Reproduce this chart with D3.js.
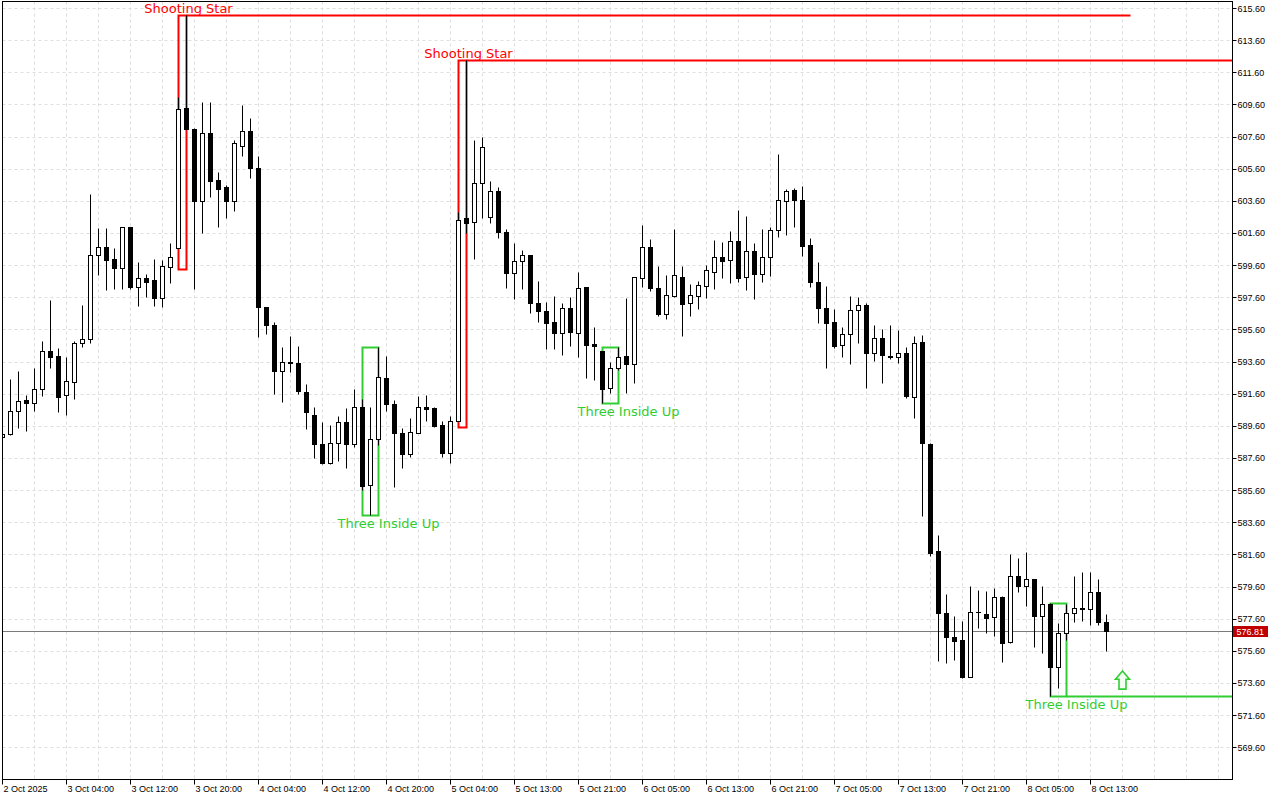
<!DOCTYPE html>
<html><head><meta charset="utf-8">
<script src="https://cdn.jsdelivr.net/npm/d3@7"></script>
<style>html,body{margin:0;padding:0;background:#fff;}svg{display:block;}</style>
</head><body>
<svg id="chart" width="1280" height="800"></svg>
<script>
const opens = [588.89,589.07,590.52,591.21,591.00,591.87,594.24,593.94,591.50,592.31,594.73,594.98,600.21,600.71,599.98,599.40,601.95,598.26,598.78,598.67,597.54,599.50,600.65,609.40,608.07,603.61,607.80,604.88,604.44,603.61,607.03,607.95,605.62,596.97,595.87,593.03,593.55,593.51,591.70,590.25,588.45,587.30,588.51,589.82,588.45,590.75,585.90,588.76,592.56,590.94,589.13,587.83,589.13,590.75,590.69,589.65,587.89,589.90,602.51,602.26,604.69,602.58,604.19,601.64,599.09,599.86,600.21,597.22,596.76,596.04,595.36,596.91,595.36,598.22,594.69,594.24,591.94,593.18,593.94,593.43,598.78,600.71,598.16,596.54,597.70,598.84,597.26,597.70,598.32,599.19,600.09,599.90,601.10,598.84,600.46,599.03,600.09,601.77,603.57,604.26,603.63,600.83,598.53,596.91,596.04,594.61,595.30,596.79,597.10,594.11,595.05,593.94,593.90,594.11,591.37,594.80,588.45,581.81,577.97,576.44,576.27,573.99,578.03,577.87,577.68,578.93,576.13,580.25,579.65,580.05,577.78,578.51,574.61,576.69,577.93,578.24,578.18,579.24,577.37];
const highs = [589.20,592.51,593.01,591.52,593.20,594.88,597.43,594.42,593.90,594.88,597.12,604.03,601.89,601.89,600.65,601.95,601.95,599.78,599.05,599.96,599.92,601.00,610.08,615.16,608.15,609.73,609.73,605.38,604.59,607.39,609.56,608.74,606.39,596.97,596.04,594.49,595.19,594.57,592.18,590.79,589.82,589.65,590.21,590.69,591.89,591.27,590.79,594.49,593.94,591.21,589.48,590.07,591.46,591.52,590.79,589.90,590.21,602.89,612.36,607.39,607.55,604.83,604.44,601.83,600.96,600.54,600.21,598.61,597.32,597.68,597.22,597.63,599.15,598.26,595.73,594.24,593.55,594.52,597.54,598.84,602.10,601.21,599.56,598.99,601.85,599.55,598.43,598.61,599.61,601.16,601.04,601.72,603.03,602.66,600.96,601.85,601.95,606.51,604.34,604.38,604.52,601.27,599.78,598.28,596.85,595.73,597.68,597.62,597.22,595.87,595.61,595.87,595.56,594.49,595.19,595.25,588.55,582.81,579.13,577.77,577.45,579.63,579.38,579.32,579.49,579.01,581.60,581.39,581.73,580.05,579.65,578.56,577.31,578.51,580.25,580.52,580.48,580.07,577.89];
const lows = [588.80,589.00,589.45,589.26,590.54,591.47,593.18,590.48,590.29,591.29,594.52,594.77,599.00,598.07,598.10,598.10,598.10,597.07,597.63,597.07,596.98,598.51,600.65,608.05,598.10,601.58,603.82,601.99,602.55,602.99,606.41,605.00,595.11,595.29,591.58,591.10,592.93,591.56,589.38,587.62,587.20,587.25,587.43,586.99,588.30,585.61,584.05,588.41,590.54,585.81,586.96,587.68,589.13,589.92,589.51,587.68,587.27,589.90,601.58,599.98,602.55,602.20,601.31,598.19,597.47,598.10,596.64,596.08,594.38,594.38,594.03,594.57,593.90,592.59,592.45,591.04,591.62,593.07,591.66,592.25,598.24,597.99,596.45,596.23,597.63,595.21,596.45,596.89,597.54,598.13,598.82,598.51,598.53,598.05,597.51,598.57,598.94,601.37,601.49,601.99,600.19,598.22,595.98,593.22,594.46,593.90,593.43,594.77,591.93,593.65,592.25,593.74,593.49,591.31,590.07,584.01,581.52,574.98,574.82,575.03,573.89,573.95,577.04,576.73,576.54,574.88,576.07,579.28,578.41,575.85,575.44,572.79,573.30,576.27,577.41,577.45,577.20,577.20,575.61];
const closes = [589.07,590.52,591.14,591.00,591.87,594.24,593.90,591.37,592.37,594.73,594.98,600.21,600.71,599.94,599.40,601.95,598.26,598.78,598.57,597.57,599.55,600.12,609.30,608.05,603.61,607.80,604.85,604.36,603.61,607.18,607.95,605.62,596.97,595.87,593.03,593.55,593.49,591.75,590.44,588.45,587.27,588.51,589.82,588.45,590.75,585.85,588.76,592.62,590.94,589.13,587.83,589.20,590.75,590.65,589.61,587.89,589.90,602.41,602.20,604.69,606.93,604.19,601.64,599.09,599.87,600.21,597.22,596.76,596.02,595.36,596.91,595.42,598.16,594.65,594.59,591.91,593.18,593.90,593.43,598.84,600.71,598.16,596.54,597.72,598.97,597.20,597.72,598.34,599.30,600.09,599.87,601.10,598.82,600.46,599.07,600.09,601.77,603.63,604.19,603.67,600.81,598.53,596.95,596.02,594.59,595.30,596.79,597.10,594.11,595.05,593.99,593.90,594.11,591.47,594.73,588.51,581.70,577.97,576.44,576.23,573.99,578.03,578.01,577.66,578.93,576.07,580.25,579.65,580.05,577.78,578.49,574.61,576.69,577.93,578.24,578.18,579.24,577.37,576.81];

const timeLabels = ["2 Oct 2025","3 Oct 04:00","3 Oct 12:00","3 Oct 20:00","4 Oct 04:00","4 Oct 12:00","4 Oct 20:00","5 Oct 04:00","5 Oct 13:00","5 Oct 21:00","6 Oct 05:00","6 Oct 13:00","6 Oct 21:00","7 Oct 05:00","7 Oct 13:00","7 Oct 21:00","8 Oct 05:00","8 Oct 13:00"];
const timeLabelIndex = [0,8,16,24,32,40,48,56,64,72,80,88,96,104,112,120,128,136];
const priceTicks = [615.6,613.6,611.6,609.6,607.6,605.6,603.6,601.6,599.6,597.6,595.6,593.6,591.6,589.6,587.6,585.6,583.6,581.6,579.6,577.6,575.6,573.6,571.6,569.6];
const lastPrice = 576.81;

// candlestick patterns: first/last candle index, box top/bottom price
const starName = "Shooting Star";
const starFirst = [22, 57];
const starLast = [23, 58];
const starTop = [615.16, 612.36];
const starBottom = [599.35, 589.51];
const starLineEnd = [141, null]; // null = to right edge

const tiuName = "Three Inside Up";
const tiuFirst = [45, 75, 131];
const tiuLast = [47, 77, 133];
const tiuTop = [594.49, 594.52, 578.56];
const tiuBottom = [584.05, 591.04, 572.79];
const tiuExtend = [false, false, true];

const arrowIndex = 140;
const arrowTop = 574.34;
const arrowBottom = 573.22;

// ---------- layout ----------
const L = 2.5, R = 1232.5, T = 1.5, B = 779.5;
const svg = d3.select("#chart");
const x = d3.scaleLinear().domain([0, 1]).range([2.5, 10.5]);
const y = d3.scaleLinear().domain([567.6, 615.6]).range([779.4, 8]);
const cy = v => Math.round(y(v)) + 0.5;

svg.append("rect").attr("width",1280).attr("height",800).attr("fill","#fff");
svg.append("clipPath").attr("id","plot").append("rect")
  .attr("x",L+0.5).attr("y",T+0.5).attr("width",R-L-1).attr("height",B-T-1);

const grid = svg.append("g").attr("clip-path","url(#plot)");
const gridIdx = d3.range(0, 154, 4);
grid.selectAll("line.v").data(gridIdx).join("line")
  .attr("x1",d=>x(d)).attr("x2",d=>x(d)).attr("y1",T).attr("y2",B)
  .attr("stroke","#dedede").attr("stroke-dasharray","3,3");
grid.selectAll("line.h").data(priceTicks).join("line")
  .attr("x1",L).attr("x2",R).attr("y1",d=>cy(d)).attr("y2",d=>cy(d))
  .attr("stroke","#dedede").attr("stroke-dasharray","3,3");

const plot = svg.append("g").attr("clip-path","url(#plot)");

// pattern boxes (behind candles)
function boxPath(i0,i1,top,bottom){
  const x0=x(i0), x1=x(i1), yt=cy(top), yb=cy(bottom);
  return `M${x0},${yb}V${yt}H${x1}V${yb}Z`;
}
starFirst.forEach((f,k)=>{
  plot.append("path").attr("d",boxPath(f,starLast[k],starTop[k],starBottom[k]))
    .attr("fill","none").attr("stroke","#ff0000").attr("stroke-width",2);
  const xe = starLineEnd[k]===null ? R : x(starLineEnd[k]);
  plot.append("line").attr("x1",x(starLast[k])).attr("x2",xe)
    .attr("y1",cy(starTop[k])).attr("y2",cy(starTop[k]))
    .attr("stroke","#ff0000").attr("stroke-width",2);
});
tiuFirst.forEach((f,k)=>{
  plot.append("path").attr("d",boxPath(f,tiuLast[k],tiuTop[k],tiuBottom[k]))
    .attr("fill","none").attr("stroke","#32cd32").attr("stroke-width",2);
  if(tiuExtend[k]){
    plot.append("line").attr("x1",x(tiuLast[k])).attr("x2",R)
      .attr("y1",cy(tiuBottom[k])).attr("y2",cy(tiuBottom[k]))
      .attr("stroke","#32cd32").attr("stroke-width",2);
  }
});

// price line
plot.append("line").attr("x1",L).attr("x2",R).attr("y1",cy(lastPrice)).attr("y2",cy(lastPrice))
  .attr("stroke","#7a7a7a").attr("stroke-width",1);

// candles
const idx = d3.range(opens.length);
plot.selectAll("line.wick").data(idx).join("line")
  .attr("x1",i=>x(i)).attr("x2",i=>x(i))
  .attr("y1",i=>cy(highs[i])).attr("y2",i=>cy(lows[i]))
  .attr("stroke","#000").attr("stroke-width",1);
plot.selectAll("rect.body").data(idx).join("rect")
  .attr("x",i=>x(i)-2).attr("width",4)
  .attr("y",i=>cy(Math.max(opens[i],closes[i])))
  .attr("height",i=>Math.max(0.001, cy(Math.min(opens[i],closes[i]))-cy(Math.max(opens[i],closes[i]))))
  .attr("fill",i=>closes[i]>=opens[i]?"#fff":"#000")
  .attr("stroke","#000").attr("stroke-width",1);

// arrow
{
  const ax = x(arrowIndex), yt = y(arrowTop), yb = y(arrowBottom), h = yb-yt;
  const p = `M${ax},${yt}L${ax+7},${yt+h*0.45}H${ax+3.5}V${yb}H${ax-3.5}V${yt+h*0.45}H${ax-7}Z`;
  plot.append("path").attr("d",p).attr("fill","#f4fff4").attr("stroke","#32cd32").attr("stroke-width",1.6);
}

// pattern labels
const lblFont = "'DejaVu Sans', sans-serif";
starFirst.forEach((f,k)=>{
  svg.append("text").attr("x",(x(f)+x(starLast[k]))/2+6).attr("y",cy(starTop[k])-3)
    .attr("text-anchor","middle").attr("font-family",lblFont).attr("font-size",13)
    .attr("fill","#ff0000").text(starName);
});
tiuFirst.forEach((f,k)=>{
  svg.append("text").attr("x",(x(f)+x(tiuLast[k]))/2+18).attr("y",cy(tiuBottom[k])+12.5)
    .attr("text-anchor","middle").attr("font-family",lblFont).attr("font-size",13)
    .attr("fill","#32cd32").text(tiuName);
});

// frame
svg.append("rect").attr("x",L).attr("y",T).attr("width",R-L).attr("height",B-T)
  .attr("fill","none").attr("stroke","#000").attr("stroke-width",1);

// axes
const axFont = "'Liberation Sans', Arial, sans-serif";
const yAxis = svg.append("g");
yAxis.selectAll("line").data(priceTicks).join("line")
  .attr("x1",R).attr("x2",R+4).attr("y1",d=>cy(d)).attr("y2",d=>cy(d)).attr("stroke","#000");
yAxis.selectAll("text").data(priceTicks).join("text")
  .attr("x",R+5).attr("y",d=>y(d)+3.5).attr("font-family",axFont).attr("font-size",9)
  .attr("fill","#000").text(d=>d.toFixed(2));

const xAxis = svg.append("g");
xAxis.selectAll("line").data(timeLabelIndex).join("line")
  .attr("x1",i=>x(i)).attr("x2",i=>x(i)).attr("y1",B).attr("y2",B+5).attr("stroke","#000");
xAxis.selectAll("text").data(timeLabelIndex).join("text")
  .attr("x",i=>x(i)+1).attr("y",792).attr("font-family",axFont).attr("font-size",9)
  .attr("fill","#000").text((d,k)=>timeLabels[k]);

// last price tag
const py = cy(lastPrice);
svg.append("rect").attr("x",R+0.5).attr("y",py-5.5).attr("width",35).attr("height",11).attr("fill","#c00000");
svg.append("text").attr("x",R+4).attr("y",py+3.5).attr("font-family",axFont).attr("font-size",9)
  .attr("fill","#fff").text(lastPrice.toFixed(2));
</script>
</body></html>
